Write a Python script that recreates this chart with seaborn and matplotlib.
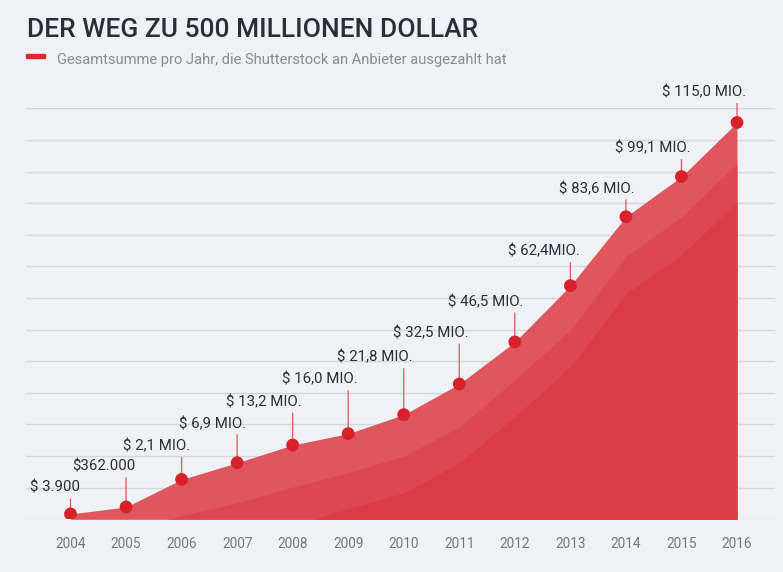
import numpy as np
import pandas as pd
import seaborn as sns
import matplotlib.pyplot as plt

# values (heights in grid steps, the source axis is not linear)
years = list(range(2004, 2017))
labels = ['$ 3.900', '$362.000', '$ 2,1 MIO.', '$ 6,9 MIO.', '$ 13,2 MIO.', '$ 16,0 MIO.',
          '$ 21,8 MIO.', '$ 32,5 MIO.', '$ 46,5 MIO.', '$ 62,4MIO.', '$ 83,6 MIO.',
          '$ 99,1 MIO.', '$ 115,0 MIO.']
outer = [0.17, 0.39, 1.26, 1.79, 2.35, 2.71, 3.31, 4.28, 5.61, 7.39, 9.57, 10.84, 12.55]

mid_years = [2005.75] + list(range(2006, 2017))
mid = [0, 0.12, 0.52, 1.02, 1.47, 2.0, 2.92, 4.41, 5.99, 8.3, 9.57, 11.24]

inner_years = [2008.4] + list(range(2009, 2017))
inner = [0, 0.34, 0.83, 1.78, 3.24, 4.82, 7.13, 8.36, 10.04]

# label offset above the dot, pixels
label_off = [26, 40, 33, 39, 43, 54, 57, 51, 40, 34, 28, 28, 30]

df = pd.DataFrame({'year': years, 'height': outer, 'label': labels})

bg = '#f0f1f5'
sns.set_theme(style='white', rc={'figure.facecolor': bg, 'axes.facecolor': bg})
plt.rcParams['font.family'] = ['Roboto', 'DejaVu Sans']

fig = plt.figure(figsize=(7.83, 5.72), dpi=100)
ax = fig.add_axes([26 / 783, (572 - 519.3) / 572, 749 / 783, 411 / 572])

for g in range(0, 14):
    ax.axhline(g, color='#d5d6db', lw=1, zorder=0)

ax.fill_between(df['year'], df['height'], color='#e0565f', lw=0, zorder=1)
ax.fill_between(mid_years, mid, color='#dc4751', lw=0, zorder=2)
ax.fill_between(inner_years, inner, color='#db3b44', lw=0, zorder=3)

sns.scatterplot(data=df, x='year', y='height', ax=ax, s=85, color='#d9212b',
                edgecolor='none', zorder=5, legend=False)

for x, y, lab, off in zip(df['year'], df['height'], df['label'], label_off):
    ax.annotate('', xy=(x, y), xytext=(0, off - 11), textcoords='offset pixels',
                arrowprops=dict(arrowstyle='-', color='#e0646c', lw=1, shrinkA=0, shrinkB=0),
                zorder=4, annotation_clip=False)
    ax.annotate(lab, xy=(x, y), xytext=(9, off), textcoords='offset pixels',
                ha='right', va='center', fontsize=10.8, color='#2b2f37', annotation_clip=False)

ax.set_xlim(2004 - 44.5 / 55.54, 2016 + 38 / 55.54)
ax.set_ylim(0, 13)
ax.set_xticks(years)
ax.set_xticklabels([str(y) for y in years], fontsize=9.8, color='#75777d')
ax.tick_params(axis='x', length=0, pad=13)
ax.set_yticks([])
ax.set_xlabel('')
ax.set_ylabel('')
sns.despine(ax=ax, left=True, bottom=True)

fig.text(27 / 783, 1 - 30 / 572, 'DER WEG ZU 500 MILLIONEN DOLLAR', fontsize=19,
         fontweight='medium', color='#2a2e36', va='center', ha='left')
fig.patches.append(plt.Rectangle((26 / 783, 1 - 58 / 572), 19 / 783, 4 / 572,
                                 transform=fig.transFigure, color='#e0262f', figure=fig))
fig.text(57 / 783, 1 - 60 / 572, 'Gesamtsumme pro Jahr, die Shutterstock an Anbieter ausgezahlt hat',
         fontsize=10.6, color='#8a8c92', va='center', ha='left')

fig.savefig('out.png', dpi=100, facecolor=bg)
